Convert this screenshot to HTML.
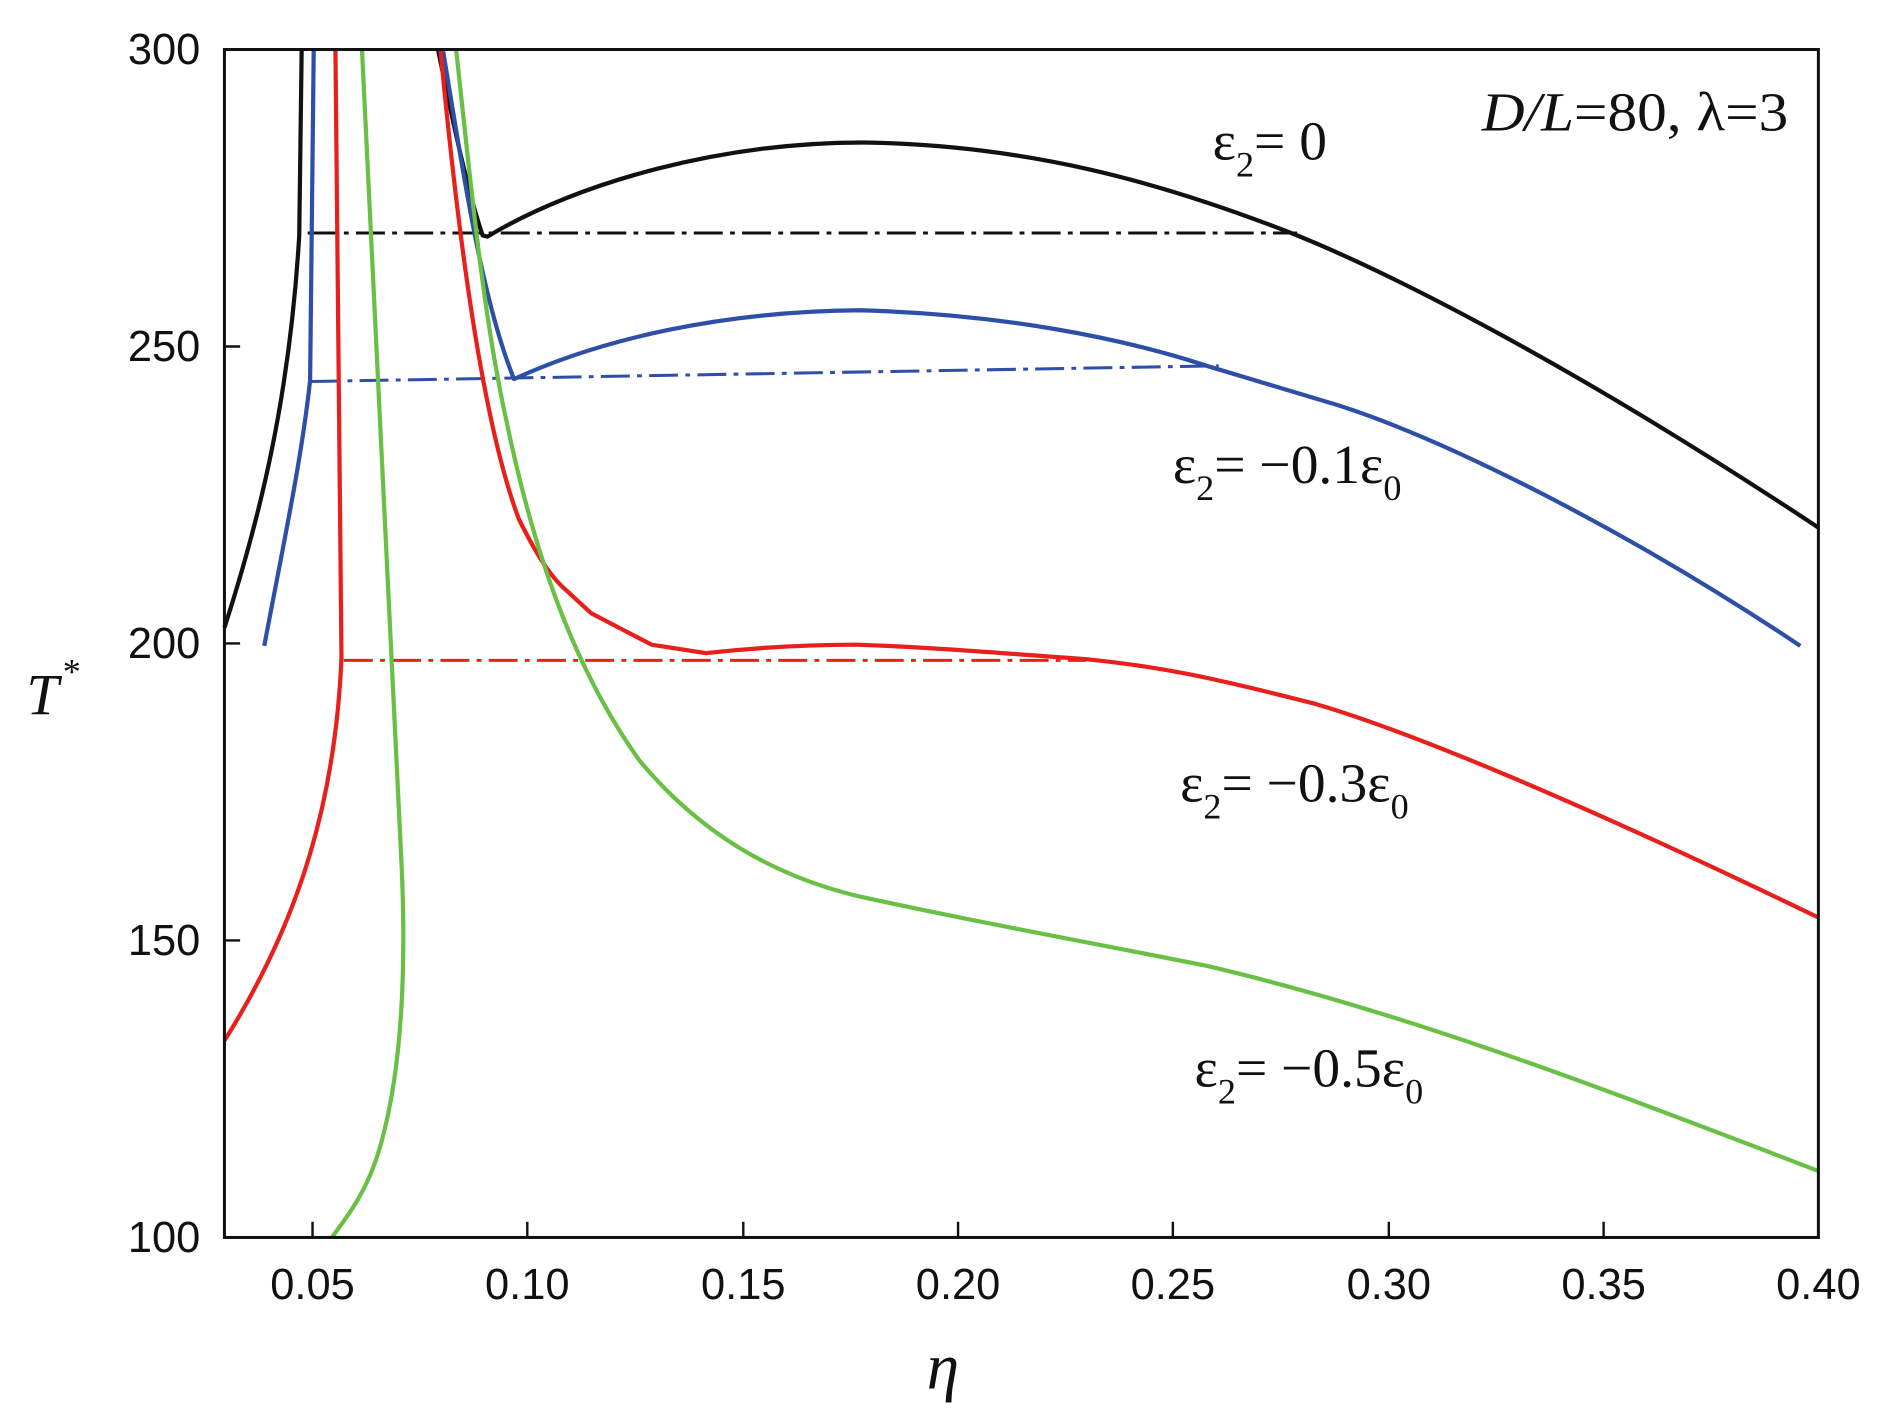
<!DOCTYPE html>
<html><head><meta charset="utf-8"><style>html,body{margin:0;padding:0;background:#fff}svg{display:block}</style></head>
<body>
<svg width="1892" height="1427" viewBox="0 0 1568 1182" preserveAspectRatio="none" xmlns="http://www.w3.org/2000/svg">
<rect width="1568" height="1182" fill="#fff"/>
<g fill="none" stroke-width="3.5" stroke-linejoin="round">
<path d="M186,520 C215,430 240,330 248,195 L250,41" stroke="#111"/>
<path d="M363,41 C375,100 388,160 400,195 L404,196 C480,150 600,118 715,118 C850,120 960,150 1070,193 C1150,225 1300,300 1507,437" stroke="#111"/>
<path d="M255,193 L1075,193" stroke="#111" stroke-width="2.5" stroke-dasharray="24,6,4,6"/>
<path d="M219,535 C235,450 250,380 257,315 L260,41" stroke="#2d4fa8"/>
<path d="M367,41 C385,150 400,250 426,314 C500,280 600,258 712,257 C830,260 930,280 1000,303 L1110,336 C1200,365 1350,440 1492,535" stroke="#2d4fa8"/>
<path d="M258,316 L1010,303" stroke="#2d4fa8" stroke-width="2.5" stroke-dasharray="24,6,4,6"/>
<path d="M186,862 C250,760 278,660 283,545 L278,41" stroke="#e8201c"/>
<path d="M365,41 C380,200 400,350 430,430 C445,460 455,475 465,485 L490,508 L540,534 L585,541 C630,536 670,534 710,534 C770,536 830,541 900,546 C960,552 1000,560 1090,583 C1165,605 1300,660 1507,760" stroke="#e8201c"/>
<path d="M285,547 L900,547" stroke="#e8201c" stroke-width="2.5" stroke-dasharray="24,6,4,6"/>
<path d="M300,41 C312,300 325,550 332,700 C337,790 335,880 315,950 C305,985 290,1005 275,1025" stroke="#6abf45"/>
<path d="M378,41 C390,150 400,260 420,350 C445,470 480,560 530,630 C580,690 640,725 710,742 C800,762 900,780 1000,800 C1150,835 1300,890 1507,970" stroke="#6abf45"/>
</g>
<rect x="186" y="41" width="1321" height="984" fill="none" stroke="#111" stroke-width="2.5"/>
<g stroke="#111" stroke-width="2">
<line x1="259" y1="1025" x2="259" y2="1012"/><line x1="437" y1="1025" x2="437" y2="1012"/><line x1="616" y1="1025" x2="616" y2="1012"/><line x1="794" y1="1025" x2="794" y2="1012"/><line x1="972" y1="1025" x2="972" y2="1012"/><line x1="1151" y1="1025" x2="1151" y2="1012"/><line x1="1329" y1="1025" x2="1329" y2="1012"/>
<line x1="186" y1="287" x2="199" y2="287"/><line x1="186" y1="533" x2="199" y2="533"/><line x1="186" y1="779" x2="199" y2="779"/>
</g>
<g font-family="Liberation Sans, sans-serif" font-size="36" fill="#111">
<g text-anchor="middle">
<text x="259" y="1076">0.05</text><text x="437" y="1076">0.10</text><text x="616" y="1076">0.15</text><text x="794" y="1076">0.20</text><text x="972" y="1076">0.25</text><text x="1151" y="1076">0.30</text><text x="1329" y="1076">0.35</text><text x="1507" y="1076">0.40</text>
</g>
<g text-anchor="end">
<text x="166" y="53">300</text><text x="166" y="299">250</text><text x="166" y="545">200</text><text x="166" y="791">150</text><text x="166" y="1037">100</text>
</g>
</g>
<g font-family="Liberation Serif, serif" fill="#111">
<text x="768" y="1150" font-size="54" font-style="italic">η</text>
<text x="22" y="592" font-size="48" font-style="italic">T</text><text x="52" y="566" font-size="30">*</text>
<text x="1228" y="108" font-size="46" textLength="254" lengthAdjust="spacingAndGlyphs"><tspan font-style="italic">D/L</tspan>=80, λ=3</text>
<text x="1005" y="132" font-size="46">ε<tspan font-size="30" dy="14">2</tspan><tspan dy="-14">= 0</tspan></text>
<text x="972" y="400" font-size="46">ε<tspan font-size="30" dy="14">2</tspan><tspan dy="-14">= −0.1ε</tspan><tspan font-size="30" dy="14">0</tspan></text>
<text x="978" y="664" font-size="46">ε<tspan font-size="30" dy="14">2</tspan><tspan dy="-14">= −0.3ε</tspan><tspan font-size="30" dy="14">0</tspan></text>
<text x="990" y="900" font-size="46">ε<tspan font-size="30" dy="14">2</tspan><tspan dy="-14">= −0.5ε</tspan><tspan font-size="30" dy="14">0</tspan></text>
</g>
</svg>
</body></html>
